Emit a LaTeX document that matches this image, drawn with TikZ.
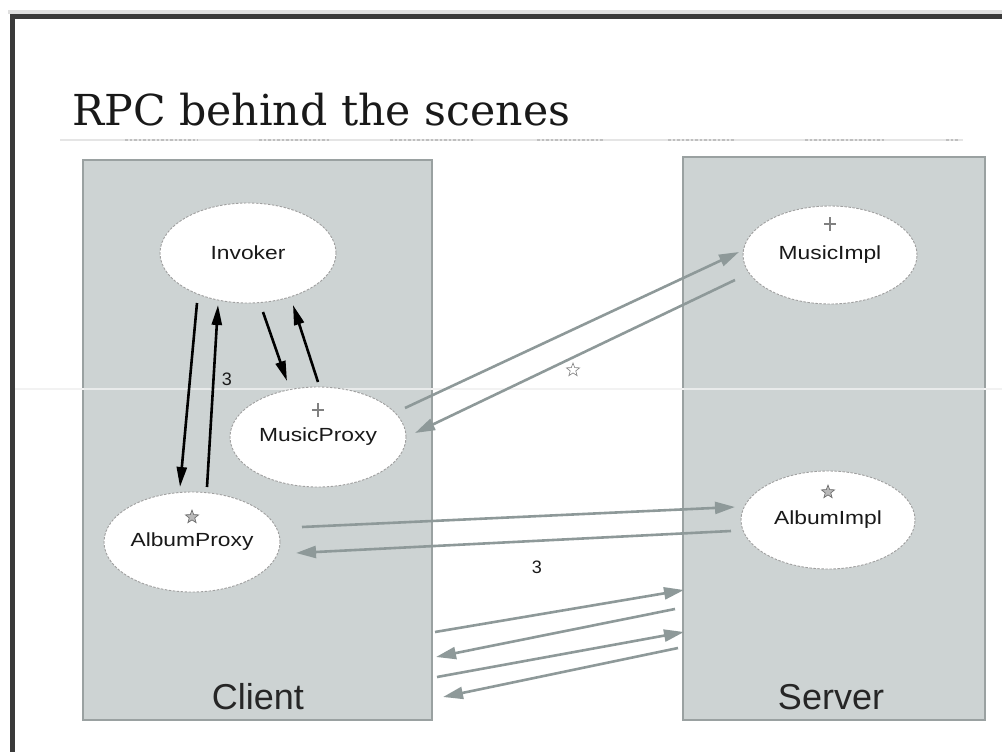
\documentclass[tikz,border=0pt]{standalone}
\usepackage{fontspec}
\usetikzlibrary{arrows.meta,shapes.geometric}
\newfontfamily\diagsans{Liberation Sans}
\newfontfamily\titleserif{DejaVu Serif}
\definecolor{boxfill}{HTML}{CDD3D3}
\definecolor{boxedge}{HTML}{9AA1A1}
\definecolor{msggray}{HTML}{8E9999}
\definecolor{framedark}{HTML}{3A3A3A}
\newcommand{\objname}[1]{\scalebox{1.2}[1]{#1}}
\tikzset{
  tier/.style={draw=boxedge, line width=2pt, fill=boxfill},
  obj/.style={ellipse, draw=gray!75, dash pattern=on 2.5pt off 1.5pt, line width=0.9pt,
    fill=white, minimum width=176pt, minimum height=100pt, inner sep=0pt,
    font=\diagsans\fontsize{19}{21}\selectfont, text=black!90},
  call/.style={line width=2.6pt, black, -{Triangle[length=20pt,width=10pt]}},
  remote/.style={line width=2.6pt, msggray, -{Triangle[length=20pt,width=12pt]}},
  tierlabel/.style={font=\diagsans\fontsize{36}{40}\selectfont, text=black!85},
  numlabel/.style={font=\diagsans\fontsize{18}{20}\selectfont, text=black!90},
  starmark/.style={star, star points=5, star point ratio=2.4, minimum size=14pt,
    inner sep=0pt, draw=gray!80!black, fill=gray!55, line width=0.6pt},
  hollowstar/.style={starmark, fill=none, draw=gray},
  plusmark/.pic={\draw[gray, line width=1.2pt] (-6,0) -- (6,0) (0,-7) -- (0,7);}
}
\begin{document}
\begin{tikzpicture}[x=1pt,y=-1pt]
\useasboundingbox (0,0) rectangle (1002,752);

% slide frame
\draw[gray!25, line width=4pt] (8,12) -- (1002,12);
\draw[framedark, line width=5pt, line join=miter] (12.5,752) -- (12.5,17) -- (1002,17);

% title and its rule
\node[anchor=base west, inner sep=0pt, text=black!90] (title) at (72,125)
  {\resizebox{498pt}{!}{\titleserif\fontsize{40}{44}\selectfont RPC behind the scenes}};
\draw[gray!20, line width=2.2pt] (60,140) -- (963,140);
\foreach \a/\b in {125/198,259/329,390/473,537/604,668/735,805/885,946/958}
  \draw[gray!50, line width=2.2pt, dash pattern=on 2.5pt off 2pt] (\a,140) -- (\b,140);

% client and server tiers
\draw[tier] (83,160) rectangle (432,720);
\draw[tier] (683,157) rectangle (985,720);
\draw[gray!10, line width=1.2pt] (15,389) -- (1002,389);
\draw[white!55!boxfill, line width=1.2pt] (84,389) -- (431,389) (684,389) -- (984,389);

\node[tierlabel] (clientlbl) at (258,697) {Client};
\node[tierlabel] (serverlbl) at (831,697) {Server};

% objects
\node[obj] (inv) at (248,253) {\objname{Invoker}};
\node[obj] (mproxy) at (318,437) {\objname{MusicProxy}};
\node[obj] (aproxy) at (192,542) {\objname{AlbumProxy}};
\node[obj, minimum height=98pt, minimum width=174pt] (mimpl) at (830,255) {\objname{MusicImpl}};
\node[obj, minimum height=98pt, minimum width=174pt] (aimpl) at (828,520) {\objname{AlbumImpl}};

\pic at ([yshift=27pt]mproxy.center) {plusmark};
\pic at ([yshift=31pt]mimpl.center) {plusmark};
\node[starmark] (apstar) at ([yshift=25pt]aproxy.center) {};
\node[starmark] (aistar) at ([yshift=28pt]aimpl.center) {};

% local calls inside the client
\coordinate (i2a-s) at (197,303); \coordinate (i2a-e) at (180,487);
\coordinate (a2i-s) at (207,487); \coordinate (a2i-e) at (218,305);
\coordinate (i2m-s) at (263,312); \coordinate (i2m-e) at (287,381);
\coordinate (m2i-s) at (318,382); \coordinate (m2i-e) at (293,305);
\draw[call] (i2a-s) -- (i2a-e);
\draw[call] (a2i-s) -- (a2i-e);
\draw[call] (i2m-s) -- (i2m-e);
\draw[call] (m2i-s) -- (m2i-e);
\node[numlabel] (n3a) at (227,379) {3};

% remote calls between the tiers
\coordinate (mp2mi-s) at (405,408); \coordinate (mp2mi-e) at (739,252);
\coordinate (mi2mp-s) at (735,280); \coordinate (mi2mp-e) at (415,433);
\coordinate (ap2ai-s) at (302,527); \coordinate (ap2ai-e) at (735,507);
\coordinate (ai2ap-s) at (731,531); \coordinate (ai2ap-e) at (296,553);
\draw[remote] (mp2mi-s) -- (mp2mi-e);
\draw[remote] (mi2mp-s) -- (mi2mp-e);
\draw[remote] (ap2ai-s) -- (ap2ai-e);
\draw[remote] (ai2ap-s) -- (ai2ap-e);
\node[hollowstar] (midstar) at (573,370) {};
\node[numlabel] (n3b) at (537,567) {3};

% further traffic
\coordinate (t1-s) at (435,632); \coordinate (t1-e) at (684,590);
\coordinate (t2-s) at (675,609); \coordinate (t2-e) at (436,657);
\coordinate (t3-s) at (437,677); \coordinate (t3-e) at (684,632);
\coordinate (t4-s) at (678,648); \coordinate (t4-e) at (443,697);
\draw[remote] (t1-s) -- (t1-e);
\draw[remote] (t2-s) -- (t2-e);
\draw[remote] (t3-s) -- (t3-e);
\draw[remote] (t4-s) -- (t4-e);
\end{tikzpicture}
\end{document}
